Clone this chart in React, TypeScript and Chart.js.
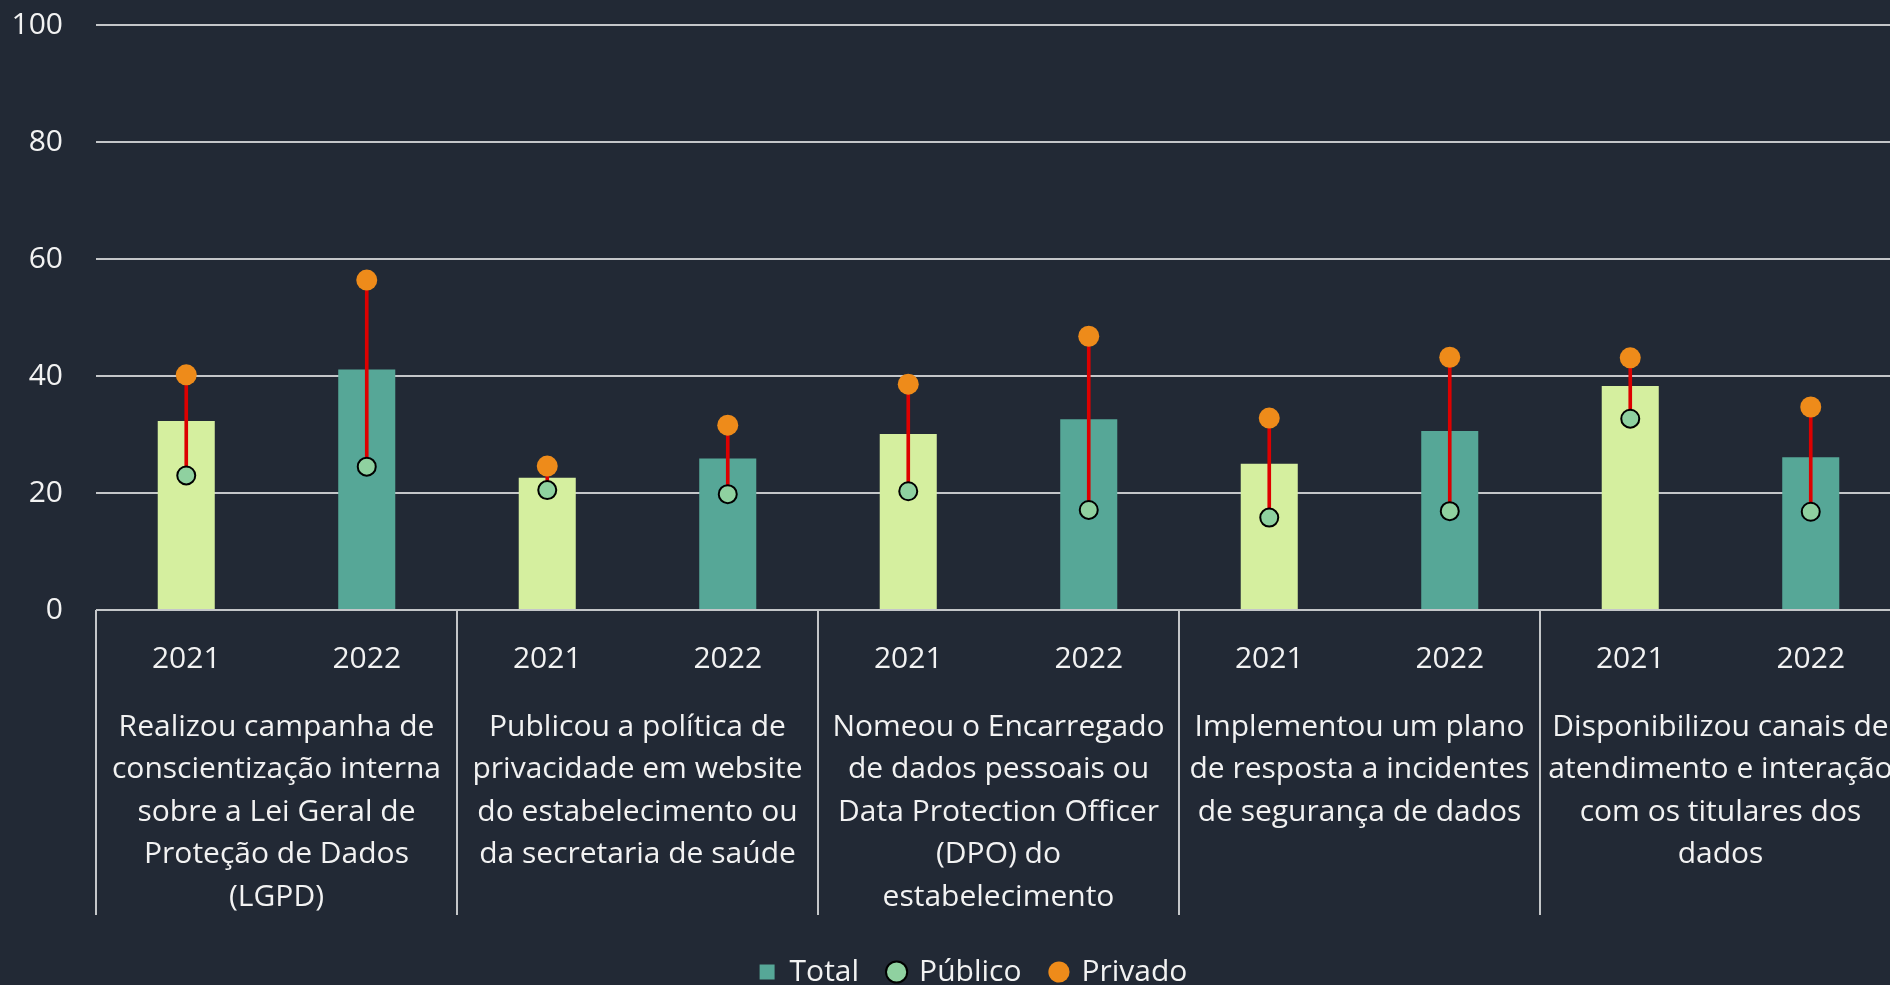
import React, { useEffect, useRef } from 'react';
import { Chart, registerables } from 'chart.js';

Chart.register(...registerables);

const years = ['2021', '2022', '2021', '2022', '2021', '2022', '2021', '2022', '2021', '2022'];

const groupLabels = [
  ['Realizou campanha de', 'conscientização interna', 'sobre a Lei Geral de', 'Proteção de Dados', '(LGPD)'],
  ['Publicou a política de', 'privacidade em website', 'do estabelecimento ou', 'da secretaria de saúde'],
  ['Nomeou o Encarregado', 'de dados pessoais ou', 'Data Protection Officer', '(DPO) do', 'estabelecimento'],
  ['Implementou um plano', 'de resposta a incidentes', 'de segurança de dados'],
  ['Disponibilizou canais de', 'atendimento e interação', 'com os titulares dos', 'dados'],
];

const totalValues = [32.3, 41.1, 22.6, 25.9, 30.1, 32.6, 25.0, 30.6, 38.3, 26.1];
const publicValues = [23.0, 24.5, 20.5, 19.8, 20.3, 17.1, 15.8, 16.9, 32.7, 16.8];
const privateValues = [40.2, 56.4, 24.6, 31.6, 38.6, 46.8, 32.8, 43.2, 43.1, 34.7];

const BG = '#222935';
const LIGHT = '#d5ef9f';
const TEAL = '#56a797';
const GRID = '#c4c6c9';
const TXT = '#f2f2f2';
const PUB = '#8fd1a0';
const PRIV = '#ee8b1a';
const RED = '#dd0000';

const W = 1947;
const H = 997;

export default function App() {
  const ref = useRef<HTMLCanvasElement>(null);

  useEffect(() => {
    const canvas = ref.current;
    if (!canvas) return;
    Chart.defaults.font.family = "'Open Sans', sans-serif";
    const chart = new Chart(canvas, {
      type: 'bar',
      data: {
        labels: years,
        datasets: [
          {
            type: 'bar',
            label: 'Total',
            data: totalValues,
            backgroundColor: years.map((y) => (y === '2021' ? LIGHT : TEAL)),
            borderWidth: 0,
            grouped: false,
            barPercentage: 0.316,
            categoryPercentage: 1,
            order: 3,
          } as any,
          {
            type: 'line',
            label: 'Público',
            data: publicValues,
            showLine: false,
            pointRadius: 9,
            pointHoverRadius: 9,
            pointBackgroundColor: PUB,
            pointBorderColor: '#000000',
            pointBorderWidth: 2,
            backgroundColor: PUB,
            borderColor: '#000000',
            borderWidth: 2,
            order: 0,
          } as any,
          {
            type: 'line',
            label: 'Privado',
            data: privateValues,
            showLine: false,
            pointRadius: 10.5,
            pointHoverRadius: 10.5,
            pointBackgroundColor: PRIV,
            pointBorderColor: PRIV,
            pointBorderWidth: 0,
            backgroundColor: PRIV,
            borderColor: PRIV,
            borderWidth: 0,
            order: 1,
          } as any,
          {
            type: 'bar',
            label: 'range',
            data: publicValues.map((p, i) => [p, privateValues[i]]),
            backgroundColor: RED,
            borderWidth: 0,
            barThickness: 3,
            grouped: false,
            order: 2,
          } as any,
        ],
      },
      options: {
        responsive: false,
        animation: false,
        devicePixelRatio: 1,
        layout: { padding: { top: 25, left: 0, right: 0, bottom: 0 } },
        plugins: {
          tooltip: { enabled: false },
          legend: {
            display: true,
            position: 'bottom',
            labels: {
              color: TXT,
              font: { size: 30 },
              usePointStyle: true,
              boxWidth: 15,
              boxHeight: 15,
              padding: 30,
              generateLabels: (c: any) => {
                const items = (Chart.defaults.plugins.legend.labels as any).generateLabels(c);
                return items
                  .filter((it: any) => it.datasetIndex !== 3)
                  .sort((a: any, b: any) => a.datasetIndex - b.datasetIndex)
                  .map((it: any) =>
                    it.datasetIndex === 0
                      ? { ...it, fillStyle: TEAL, strokeStyle: TEAL, lineWidth: 0, pointStyle: 'rect' }
                      : it
                  );
              },
            },
          },
        },
        scales: {
          x: {
            type: 'category',
            position: 'bottom',
            weight: 1,
            offset: true,
            grid: {
              display: true,
              offset: true,
              drawOnChartArea: false,
              drawTicks: true,
              tickLength: 305,
              lineWidth: 2,
              color: (ctx: any) =>
                ctx.index !== undefined && ctx.index % 2 === 0 ? GRID : 'rgba(0,0,0,0)',
            },
            border: { display: false },
            ticks: {
              color: TXT,
              font: { size: 30, lineHeight: 1.417 },
              padding: -277,
              autoSkip: false,
              maxRotation: 0,
              minRotation: 0,
            },
            afterFit: (s: any) => {
              s.height = 68;
            },
          } as any,
          x2: {
            type: 'category',
            labels: groupLabels,
            position: 'bottom',
            weight: 2,
            offset: true,
            grid: { display: false, drawTicks: false },
            border: { display: false },
            ticks: {
              color: TXT,
              font: { size: 30, lineHeight: 1.417 },
              padding: 28,
              autoSkip: false,
              maxRotation: 0,
              minRotation: 0,
            },
            afterFit: (s: any) => {
              s.height = 249;
            },
          } as any,
          y: {
            min: 0,
            max: 100,
            ticks: { stepSize: 20, color: TXT, font: { size: 30 }, padding: 0 },
            grid: {
              color: GRID,
              lineWidth: 2,
              drawTicks: true,
              tickLength: 33,
              tickColor: 'rgba(0,0,0,0)',
            },
            border: { display: false },
            afterFit: (s: any) => {
              s.width = 96;
            },
          } as any,
          y2: {
            position: 'right',
            display: true,
            grid: { display: false, drawTicks: false },
            border: { display: false },
            ticks: { display: false, padding: 0 },
            afterFit: (s: any) => {
              s.width = 46;
            },
          } as any,
        },
      },
    });
    return () => chart.destroy();
  }, []);

  return (
    <div
      style={{
        position: 'fixed',
        left: 0,
        top: 0,
        width: '100vw',
        height: '100vh',
        overflow: 'hidden',
        background: BG,
      }}
    >
      <canvas ref={ref} width={W} height={H} style={{ display: 'block', width: W, height: H }} />
    </div>
  );
}
